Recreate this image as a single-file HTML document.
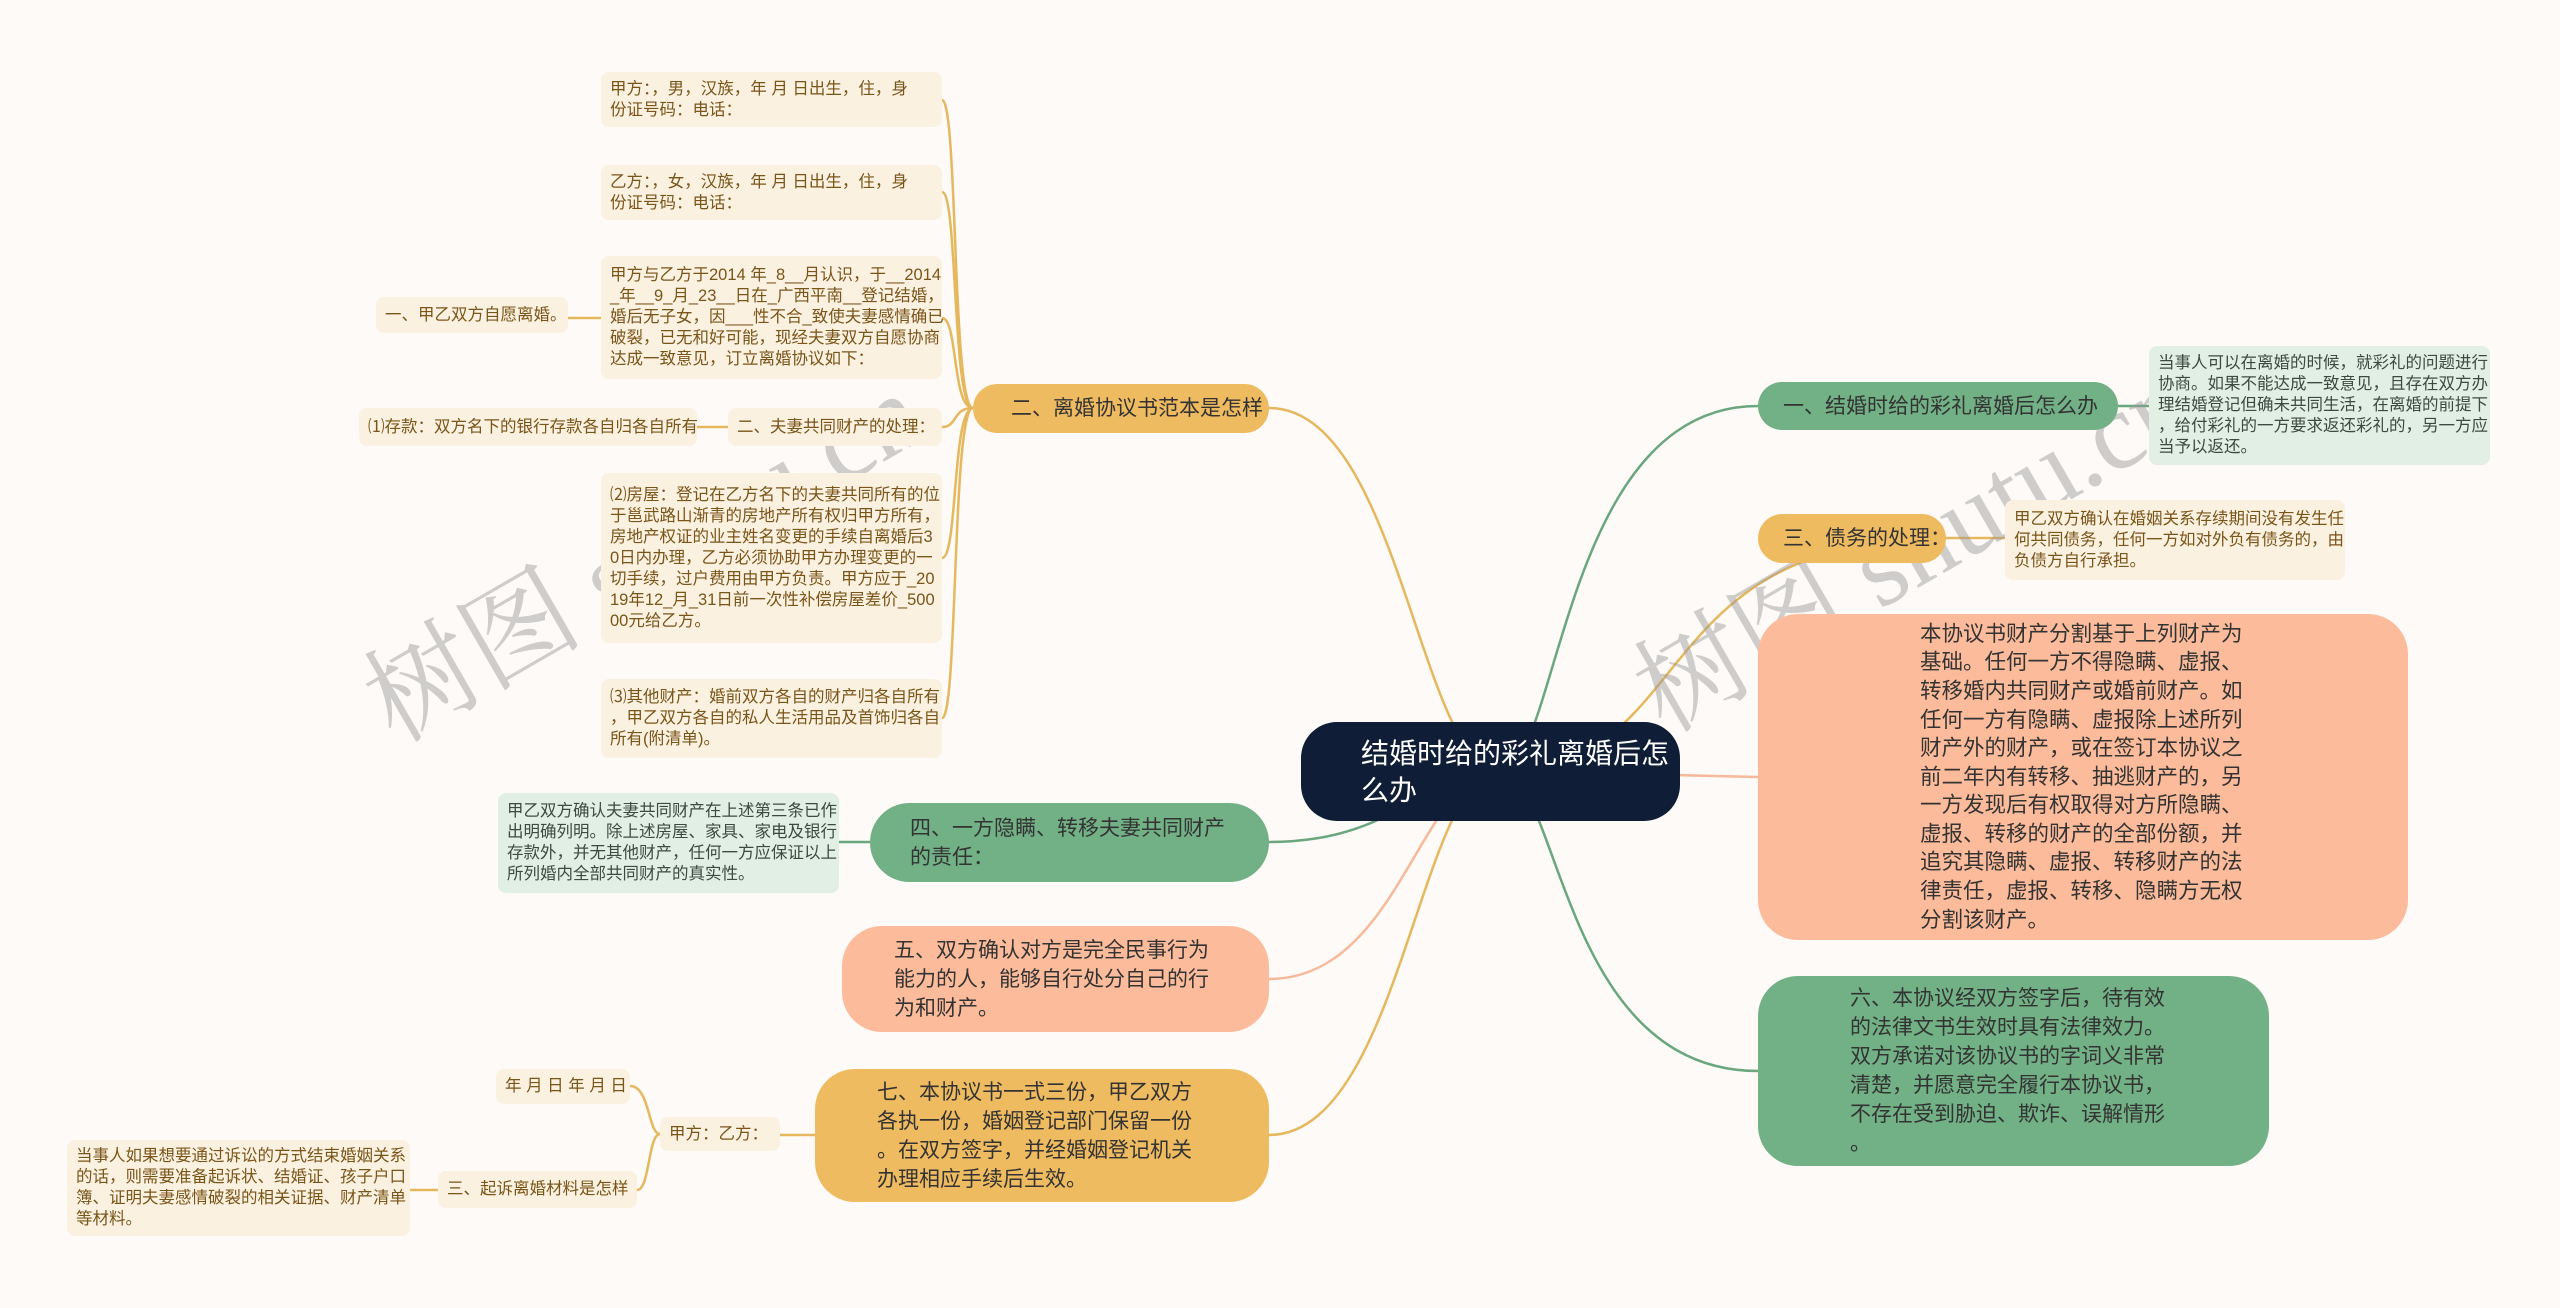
<!DOCTYPE html>
<html><head><meta charset="utf-8">
<style>
body{margin:0;width:2560px;height:1308px;background:#fdfaf7;position:relative;overflow:hidden;font-family:"Liberation Sans","Noto Sans CJK SC",sans-serif;}
.n{position:absolute;box-sizing:border-box;display:flex;align-items:center;white-space:nowrap;}
.leaf{background:#fbf1e1;color:#7a5518;font-size:16.5px;line-height:21px;border-radius:8px;padding:0 9px;}
.gl{background:#e2efe5;color:#3d4a42;font-size:16.5px;line-height:21px;border-radius:8px;padding:0 9px;}
.main{font-size:21px;line-height:29px;color:#333;border-radius:40px;padding:0 38px;}
.y{background:#efbb60;}
.g{background:#72b086;}
.s{background:#fcbc9b;}
.wm{position:absolute;font-family:"Liberation Serif","Noto Serif CJK SC",serif;font-size:110px;color:rgba(150,150,150,0.45);transform:rotate(-30deg);white-space:nowrap;}
</style></head><body>
<svg width="2560" height="1308" style="position:absolute;left:0;top:0" fill="none" stroke-width="2.5">
<g stroke="#e6b85e">
<path d="M1500,771 C1420,771 1400,408 1269,408"/>
<path d="M1500,771 C1420,771 1400,1135 1269,1135"/>
<path d="M1500,771 C1700,771 1640,538 1946,538" />
<path d="M973,408 C952,408 958,100 942,100"/>
<path d="M973,408 C952,408 958,192 942,192"/>
<path d="M973,408 C952,408 958,318 942,318"/>
<path d="M973,408 C952,408 958,427 942,427"/>
<path d="M973,408 C952,408 958,558 942,558"/>
<path d="M973,408 C952,408 958,718 942,718"/>
<path d="M601,318 L568,318"/>
<path d="M728,427 L697,427"/>
<path d="M1946,538 L2005,538"/>
<path d="M815,1135 L780,1135"/>
<path d="M660,1134 C648,1134 650,1086 630,1086"/>
<path d="M660,1134 C648,1134 650,1190 637,1190"/>
<path d="M438,1190 L410,1190"/>
</g>
<g stroke="#6aa77f">
<path d="M1500,771 C1420,771 1400,842 1269,842"/>
<path d="M1500,771 C1560,771 1560,406 1758,406"/>
<path d="M1500,771 C1560,771 1560,1071 1758,1071"/>
<path d="M2118,406 L2149,406"/>
<path d="M870,842 L839,842"/>
</g>
<g stroke="#f7b99a">
<path d="M1500,771 C1420,771 1400,979 1269,979"/>
<path d="M1500,771 L1758,777"/>
</g>
</svg>

<div class="wm" style="left:330px;top:470px;">树图 shutu.cn</div>
<div class="wm" style="left:1600px;top:460px;">树图 shutu.cn</div>

<div class="n" style="left:1301px;top:722px;width:379px;height:99px;background:#0f1d36;color:#fff;border-radius:36px;font-size:28px;line-height:37px;padding:0 60px;">结婚时给的彩礼离婚后怎<br>么办</div>

<div class="n main y" style="left:973px;top:384px;width:296px;height:49px;">二、离婚协议书范本是怎样</div>
<div class="n main g" style="left:870px;top:803px;width:399px;height:79px;padding-left:40px;">四、一方隐瞒、转移夫妻共同财产<br>的责任：</div>
<div class="n main s" style="left:842px;top:926px;width:427px;height:106px;padding-left:52px;">五、双方确认对方是完全民事行为<br>能力的人，能够自行处分自己的行<br>为和财产。</div>
<div class="n main y" style="left:815px;top:1069px;width:454px;height:133px;padding-left:62px;">七、本协议书一式三份，甲乙双方<br>各执一份，婚姻登记部门保留一份<br>。在双方签字，并经婚姻登记机关<br>办理相应手续后生效。</div>

<div class="n main g" style="left:1758px;top:382px;width:360px;height:48px;padding-left:25px;">一、结婚时给的彩礼离婚后怎么办</div>
<div class="n main y" style="left:1758px;top:514px;width:188px;height:49px;padding-left:25px;">三、债务的处理：</div>
<div class="n main s" style="left:1758px;top:614px;width:650px;height:326px;padding-left:162px;font-size:21.5px;line-height:28.6px;">本协议书财产分割基于上列财产为<br>基础。任何一方不得隐瞒、虚报、<br>转移婚内共同财产或婚前财产。如<br>任何一方有隐瞒、虚报除上述所列<br>财产外的财产，或在签订本协议之<br>前二年内有转移、抽逃财产的，另<br>一方发现后有权取得对方所隐瞒、<br>虚报、转移的财产的全部份额，并<br>追究其隐瞒、虚报、转移财产的法<br>律责任，虚报、转移、隐瞒方无权<br>分割该财产。</div>
<div class="n main g" style="left:1758px;top:976px;width:511px;height:190px;padding-left:92px;">六、本协议经双方签字后，待有效<br>的法律文书生效时具有法律效力。<br>双方承诺对该协议书的字词义非常<br>清楚，并愿意完全履行本协议书，<br>不存在受到胁迫、欺诈、误解情形<br>。</div>

<div class="n gl" style="left:2149px;top:346px;width:341px;height:119px;">当事人可以在离婚的时候，就彩礼的问题进行<br>协商。如果不能达成一致意见，且存在双方办<br>理结婚登记但确未共同生活，在离婚的前提下<br>，给付彩礼的一方要求返还彩礼的，另一方应<br>当予以返还。</div>
<div class="n leaf" style="left:2005px;top:500px;width:340px;height:80px;">甲乙双方确认在婚姻关系存续期间没有发生任<br>何共同债务，任何一方如对外负有债务的，由<br>负债方自行承担。</div>

<div class="n leaf" style="left:601px;top:72px;width:341px;height:55px;">甲方：，男，汉族，年 月 日出生，住，身<br>份证号码：电话：</div>
<div class="n leaf" style="left:601px;top:165px;width:341px;height:55px;">乙方：，女，汉族，年 月 日出生，住，身<br>份证号码：电话：</div>
<div class="n leaf" style="left:601px;top:256px;width:341px;height:123px;">甲方与乙方于2014 年_8__月认识，于__2014<br>_年__9_月_23__日在_广西平南__登记结婚，<br>婚后无子女，因___性不合_致使夫妻感情确已<br>破裂，已无和好可能，现经夫妻双方自愿协商<br>达成一致意见，订立离婚协议如下：</div>
<div class="n leaf" style="left:376px;top:297px;width:192px;height:36px;">一、甲乙双方自愿离婚。</div>
<div class="n leaf" style="left:728px;top:408px;width:214px;height:38px;">二、夫妻共同财产的处理：</div>
<div class="n leaf" style="left:359px;top:408px;width:338px;height:38px;">⑴存款：双方名下的银行存款各自归各自所有</div>
<div class="n leaf" style="left:601px;top:473px;width:341px;height:170px;">⑵房屋：登记在乙方名下的夫妻共同所有的位<br>于邕武路山渐青的房地产所有权归甲方所有，<br>房地产权证的业主姓名变更的手续自离婚后3<br>0日内办理，乙方必须协助甲方办理变更的一<br>切手续，过户费用由甲方负责。甲方应于_20<br>19年12_月_31日前一次性补偿房屋差价_500<br>00元给乙方。</div>
<div class="n leaf" style="left:601px;top:679px;width:341px;height:79px;">⑶其他财产：婚前双方各自的财产归各自所有<br>，甲乙双方各自的私人生活用品及首饰归各自<br>所有(附清单)。</div>
<div class="n gl" style="left:498px;top:793px;width:341px;height:100px;">甲乙双方确认夫妻共同财产在上述第三条已作<br>出明确列明。除上述房屋、家具、家电及银行<br>存款外，并无其他财产，任何一方应保证以上<br>所列婚内全部共同财产的真实性。</div>
<div class="n leaf" style="left:496px;top:1069px;width:134px;height:35px;">年 月 日 年 月 日</div>
<div class="n leaf" style="left:660px;top:1117px;width:120px;height:34px;">甲方：乙方：</div>
<div class="n leaf" style="left:438px;top:1171px;width:199px;height:37px;">三、起诉离婚材料是怎样</div>
<div class="n leaf" style="left:67px;top:1140px;width:343px;height:96px;">当事人如果想要通过诉讼的方式结束婚姻关系<br>的话，则需要准备起诉状、结婚证、孩子户口<br>簿、证明夫妻感情破裂的相关证据、财产清单<br>等材料。</div>
</body></html>
